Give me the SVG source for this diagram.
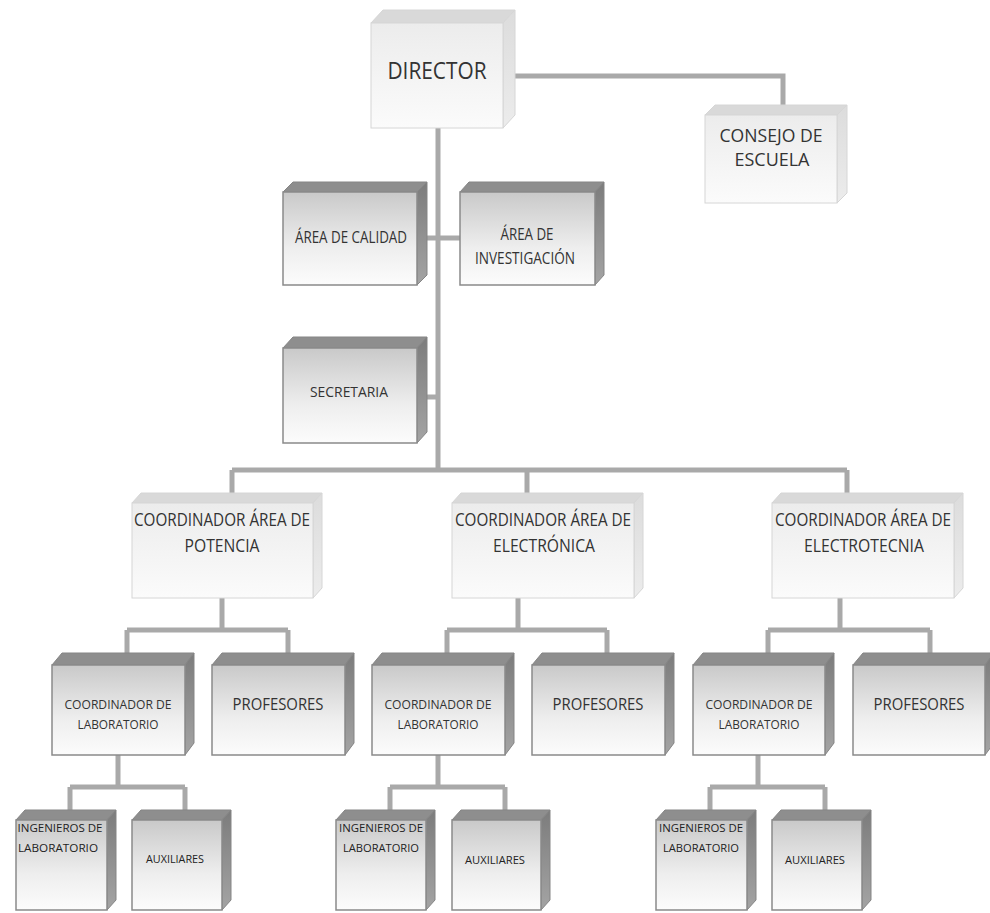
<svg xmlns="http://www.w3.org/2000/svg" width="990" height="913" viewBox="0 0 990 913">
<defs>
<linearGradient id="lf" x1="0" y1="0" x2="0" y2="1"><stop offset="0" stop-color="#ececec"/><stop offset="1" stop-color="#fbfbfb"/></linearGradient>
<linearGradient id="ls" x1="0" y1="0" x2="0" y2="1"><stop offset="0" stop-color="#dcdcdc"/><stop offset="1" stop-color="#ececec"/></linearGradient>
<linearGradient id="df" x1="0" y1="0" x2="0" y2="1"><stop offset="0" stop-color="#c9c9c9"/><stop offset="0.6" stop-color="#eeeeee"/><stop offset="1" stop-color="#fcfcfc"/></linearGradient>
<linearGradient id="ds" x1="0" y1="0" x2="0" y2="1"><stop offset="0" stop-color="#7c7c7c"/><stop offset="1" stop-color="#a4a4a4"/></linearGradient>
<style>
.c{fill:none;stroke:#a9a9a9;stroke-width:5}
.lf{fill:url(#lf);stroke:#d6d6d6;stroke-width:1}
.lt{fill:#d9d9d9;stroke:#d6d6d6;stroke-width:1}
.ls{fill:url(#ls);stroke:#d6d6d6;stroke-width:1}
.df{fill:url(#df);stroke:#8a8a8a;stroke-width:1.5}
.dt{fill:#8e8e8e;stroke:#858585;stroke-width:1}
.ds{fill:url(#ds);stroke:#858585;stroke-width:1}
text{font-family:"Open Sans","Noto Sans","Liberation Sans",sans-serif;fill:#333;text-anchor:middle}
.t24{font-size:24px}.t18{font-size:18px}.t16{font-size:16px}.t15{font-size:15px}.t13{font-size:13px}.t11{font-size:11px;fill:#222}
</style>
</defs>
<rect width="990" height="913" fill="#ffffff"/>
<g id="connectors">
<path class="c" d="M505,76 H783 V110"/>
<path class="c" d="M438,126 V470"/>
<path class="c" d="M418,238 H462"/>
<path class="c" d="M425,397 H438"/>
<path class="c" d="M232,470 H847 M232,470 V496 M527,470 V496 M847,470 V496"/>
<path class="c" d="M222,596 V630 M127,630 H288 M127,630 V656 M288,630 V656"/>
<path class="c" d="M518,596 V630 M447,630 H607 M447,630 V656 M607,630 V656"/>
<path class="c" d="M840,596 V630 M768,630 H930 M768,630 V656 M930,630 V656"/>
<path class="c" d="M118,753 V787 M70,787 H185 M70,787 V813 M185,787 V813"/>
<path class="c" d="M438,753 V787 M390,787 H505 M390,787 V813 M505,787 V813"/>
<path class="c" d="M758,753 V787 M710,787 H825 M710,787 V813 M825,787 V813"/>
</g>
<g id="director">
<polygon class="lt" points="371,23 383,10 515,10 503,23"/>
<polygon class="ls" points="503,23 515,10 515,115 503,128"/>
<rect class="lf" x="371" y="23" width="132" height="105"/>
<text class="t24" x="437" y="79" textLength="99" lengthAdjust="spacingAndGlyphs">DIRECTOR</text>
</g>
<g id="consejo">
<polygon class="lt" points="705,115 715,105 847,105 837,115"/>
<polygon class="ls" points="837,115 847,105 847,193 837,203"/>
<rect class="lf" x="705" y="115" width="132" height="88"/>
<text class="t18" x="771" y="142" textLength="103" lengthAdjust="spacingAndGlyphs">CONSEJO DE</text>
<text class="t18" x="772" y="166" textLength="75" lengthAdjust="spacingAndGlyphs">ESCUELA</text>
</g>
<g id="calidad">
<polygon class="dt" points="283,192 293,182 427,182 417,192"/>
<polygon class="ds" points="417,192 427,182 427,275 417,285"/>
<rect class="df" x="283" y="192" width="134" height="93"/>
<text class="t16" x="351" y="243" textLength="112" lengthAdjust="spacingAndGlyphs">ÁREA DE CALIDAD</text>
</g>
<g id="investigacion">
<polygon class="dt" points="460,192 469,182 604,182 595,192"/>
<polygon class="ds" points="595,192 604,182 604,275 595,285"/>
<rect class="df" x="460" y="192" width="135" height="93"/>
<text class="t16" x="527" y="240" textLength="53" lengthAdjust="spacingAndGlyphs">ÁREA DE</text>
<text class="t16" x="525" y="264" textLength="100" lengthAdjust="spacingAndGlyphs">INVESTIGACIÓN</text>
</g>
<g id="secretaria">
<polygon class="dt" points="283,348 293,337 427,337 417,348"/>
<polygon class="ds" points="417,348 427,337 427,432 417,443"/>
<rect class="df" x="283" y="348" width="134" height="95"/>
<text class="t15" x="349" y="397" textLength="78" lengthAdjust="spacingAndGlyphs">SECRETARIA</text>
</g>
<g id="coord-potencia">
<polygon class="lt" points="132,503 141,493 322,493 313,503"/>
<polygon class="ls" points="313,503 322,493 322,588 313,598"/>
<rect class="lf" x="132" y="503" width="181" height="95"/>
<text class="t18" x="222" y="526" textLength="176" lengthAdjust="spacingAndGlyphs">COORDINADOR ÁREA DE</text>
<text class="t18" x="222" y="552" textLength="75" lengthAdjust="spacingAndGlyphs">POTENCIA</text>
</g>
<g id="coord-electronica">
<polygon class="lt" points="452,503 461,493 643,493 634,503"/>
<polygon class="ls" points="634,503 643,493 643,588 634,598"/>
<rect class="lf" x="452" y="503" width="182" height="95"/>
<text class="t18" x="543" y="526" textLength="176" lengthAdjust="spacingAndGlyphs">COORDINADOR ÁREA DE</text>
<text class="t18" x="544" y="552" textLength="102" lengthAdjust="spacingAndGlyphs">ELECTRÓNICA</text>
</g>
<g id="coord-electrotecnia">
<polygon class="lt" points="772,503 781,493 963,493 954,503"/>
<polygon class="ls" points="954,503 963,493 963,588 954,598"/>
<rect class="lf" x="772" y="503" width="182" height="95"/>
<text class="t18" x="863" y="526" textLength="176" lengthAdjust="spacingAndGlyphs">COORDINADOR ÁREA DE</text>
<text class="t18" x="864" y="552" textLength="120" lengthAdjust="spacingAndGlyphs">ELECTROTECNIA</text>
</g>
<g id="lab-potencia">
<polygon class="dt" points="52,665 62,653 194,653 185,665"/>
<polygon class="ds" points="185,665 194,653 194,743 185,755"/>
<rect class="df" x="52" y="665" width="133" height="90"/>
<text class="t13" x="118" y="709" textLength="107" lengthAdjust="spacingAndGlyphs">COORDINADOR DE</text>
<text class="t13" x="118" y="729" textLength="81" lengthAdjust="spacingAndGlyphs">LABORATORIO</text>
</g>
<g id="prof-potencia">
<polygon class="dt" points="212,665 222,653 354,653 345,665"/>
<polygon class="ds" points="345,665 354,653 354,743 345,755"/>
<rect class="df" x="212" y="665" width="133" height="90"/>
<text class="t16" x="278" y="710" textLength="91" lengthAdjust="spacingAndGlyphs">PROFESORES</text>
</g>
<g id="lab-electronica">
<polygon class="dt" points="372,665 382,653 514,653 505,665"/>
<polygon class="ds" points="505,665 514,653 514,743 505,755"/>
<rect class="df" x="372" y="665" width="133" height="90"/>
<text class="t13" x="438" y="709" textLength="107" lengthAdjust="spacingAndGlyphs">COORDINADOR DE</text>
<text class="t13" x="438" y="729" textLength="81" lengthAdjust="spacingAndGlyphs">LABORATORIO</text>
</g>
<g id="prof-electronica">
<polygon class="dt" points="532,665 542,653 674,653 665,665"/>
<polygon class="ds" points="665,665 674,653 674,743 665,755"/>
<rect class="df" x="532" y="665" width="133" height="90"/>
<text class="t16" x="598" y="710" textLength="91" lengthAdjust="spacingAndGlyphs">PROFESORES</text>
</g>
<g id="lab-electrotecnia">
<polygon class="dt" points="693,665 703,653 834,653 825,665"/>
<polygon class="ds" points="825,665 834,653 834,743 825,755"/>
<rect class="df" x="693" y="665" width="132" height="90"/>
<text class="t13" x="759" y="709" textLength="107" lengthAdjust="spacingAndGlyphs">COORDINADOR DE</text>
<text class="t13" x="759" y="729" textLength="81" lengthAdjust="spacingAndGlyphs">LABORATORIO</text>
</g>
<g id="prof-electrotecnia">
<polygon class="dt" points="853,665 863,653 994,653 985,665"/>
<polygon class="ds" points="985,665 994,653 994,743 985,755"/>
<rect class="df" x="853" y="665" width="132" height="90"/>
<text class="t16" x="919" y="710" textLength="91" lengthAdjust="spacingAndGlyphs">PROFESORES</text>
</g>
<g id="ing-potencia">
<polygon class="dt" points="16,820 25,810 116,810 107,820"/>
<polygon class="ds" points="107,820 116,810 116,900 107,910"/>
<rect class="df" x="16" y="820" width="91" height="90"/>
<text class="t11" x="60" y="832" textLength="85" lengthAdjust="spacingAndGlyphs">INGENIEROS DE</text>
<text class="t11" x="58" y="852" textLength="80" lengthAdjust="spacingAndGlyphs">LABORATORIO</text>
</g>
<g id="aux-potencia">
<polygon class="dt" points="132,820 141,810 231,810 222,820"/>
<polygon class="ds" points="222,820 231,810 231,900 222,910"/>
<rect class="df" x="132" y="820" width="90" height="90"/>
<text class="t11" x="175" y="863" textLength="58" lengthAdjust="spacingAndGlyphs">AUXILIARES</text>
</g>
<g id="ing-electronica">
<polygon class="dt" points="336,820 345,810 435,810 426,820"/>
<polygon class="ds" points="426,820 435,810 435,900 426,910"/>
<rect class="df" x="336" y="820" width="90" height="90"/>
<text class="t11" x="381" y="832" textLength="84" lengthAdjust="spacingAndGlyphs">INGENIEROS DE</text>
<text class="t11" x="381" y="852" textLength="76" lengthAdjust="spacingAndGlyphs">LABORATORIO</text>
</g>
<g id="aux-electronica">
<polygon class="dt" points="452,820 461,810 550,810 541,820"/>
<polygon class="ds" points="541,820 550,810 550,900 541,910"/>
<rect class="df" x="452" y="820" width="89" height="90"/>
<text class="t11" x="495" y="864" textLength="60" lengthAdjust="spacingAndGlyphs">AUXILIARES</text>
</g>
<g id="ing-electrotecnia">
<polygon class="dt" points="656,820 665,810 756,810 747,820"/>
<polygon class="ds" points="747,820 756,810 756,900 747,910"/>
<rect class="df" x="656" y="820" width="91" height="90"/>
<text class="t11" x="701" y="832" textLength="84" lengthAdjust="spacingAndGlyphs">INGENIEROS DE</text>
<text class="t11" x="701" y="852" textLength="76" lengthAdjust="spacingAndGlyphs">LABORATORIO</text>
</g>
<g id="aux-electrotecnia">
<polygon class="dt" points="772,820 781,810 871,810 862,820"/>
<polygon class="ds" points="862,820 871,810 871,900 862,910"/>
<rect class="df" x="772" y="820" width="90" height="90"/>
<text class="t11" x="815" y="864" textLength="60" lengthAdjust="spacingAndGlyphs">AUXILIARES</text>
</g>
</svg>
